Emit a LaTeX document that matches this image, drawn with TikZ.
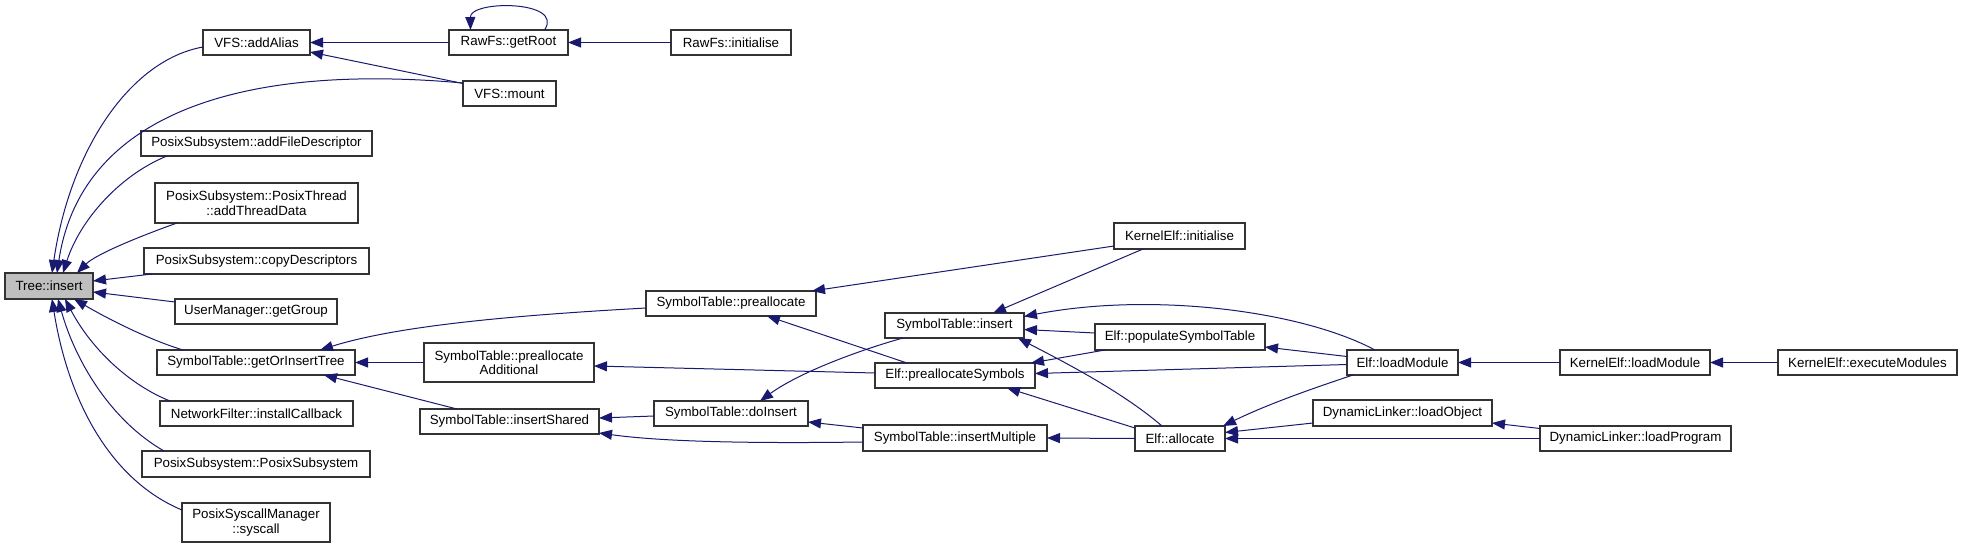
\documentclass[tikz,border=0pt]{standalone}
\usepackage{fontspec}
\setmainfont{Liberation Sans}
\usetikzlibrary{arrows.meta,calc}
\definecolor{edgec}{HTML}{191970}
\definecolor{rootfill}{HTML}{BFBFBF}
\begin{document}
\begin{tikzpicture}[x=1pt,y=-1pt,
  font=\fontsize{13.33}{14.5}\selectfont,
  fn/.style={draw=black!80, line width=1.1pt, fill=white, inner sep=0pt, outer sep=0pt, align=center},
  edge/.style={draw=edgec, line width=1pt, -{Triangle[length=13pt,width=10pt]}}]
\useasboundingbox (0,0) rectangle (1963,549);
% rank 0
\node[fn, fill=rootfill, minimum width=88pt, minimum height=26pt] (tree) at (49,286) {Tree::insert};
% rank 1
\node[fn, minimum width=107pt, minimum height=25pt] (addAlias) at (256.5,42.5) {VFS::addAlias};
\node[fn, minimum width=231pt, minimum height=25pt] (addFD) at (256.5,143.5) {PosixSubsystem::addFileDescriptor};
\node[fn, minimum width=203pt, minimum height=40pt] (addTD) at (256.5,203) {PosixSubsystem::PosixThread\\::addThreadData};
\node[fn, minimum width=225pt, minimum height=26pt] (copyD) at (256.5,261) {PosixSubsystem::copyDescriptors};
\node[fn, minimum width=162pt, minimum height=25pt] (getGroup) at (256,311.5) {UserManager::getGroup};
\node[fn, minimum width=198pt, minimum height=25pt] (getOrIns) at (256,362.5) {SymbolTable::getOrInsertTree};
\node[fn, minimum width=193pt, minimum height=25pt] (netf) at (256.5,413.5) {NetworkFilter::installCallback};
\node[fn, minimum width=228pt, minimum height=26pt] (posixSS) at (256,464) {PosixSubsystem::PosixSubsystem};
\node[fn, minimum width=148pt, minimum height=39pt] (syscall) at (256,522.5) {PosixSyscallManager\\::syscall};
% rank 2
\node[fn, minimum width=119pt, minimum height=25pt] (getRoot) at (508.5,42.5) {RawFs::getRoot};
\node[fn, minimum width=93pt, minimum height=25pt] (mount) at (509.5,93.5) {VFS::mount};
\node[fn, minimum width=170pt, minimum height=39pt] (preAdd) at (509,362.5) {SymbolTable::preallocate\\Additional};
\node[fn, minimum width=179pt, minimum height=25pt] (insShared) at (509.5,421.5) {SymbolTable::insertShared};
% rank 3
\node[fn, minimum width=120pt, minimum height=25pt] (rawinit) at (731,42.5) {RawFs::initialise};
\node[fn, minimum width=170pt, minimum height=25pt] (prealloc) at (731,303.5) {SymbolTable::preallocate};
\node[fn, minimum width=154pt, minimum height=25pt] (doInsert) at (731,413.5) {SymbolTable::doInsert};
% rank 4
\node[fn, minimum width=139pt, minimum height=25pt] (stInsert) at (954.5,325.5) {SymbolTable::insert};
\node[fn, minimum width=160pt, minimum height=25pt] (preSyms) at (955,375.5) {Elf::preallocateSymbols};
\node[fn, minimum width=184pt, minimum height=26pt] (insMult) at (955,438) {SymbolTable::insertMultiple};
% rank 5
\node[fn, minimum width=131pt, minimum height=26pt] (kinit) at (1179.5,236) {KernelElf::initialise};
\node[fn, minimum width=170pt, minimum height=26pt] (popST) at (1180,337) {Elf::populateSymbolTable};
\node[fn, minimum width=90pt, minimum height=25pt] (allocate) at (1180,438.5) {Elf::allocate};
% rank 6
\node[fn, minimum width=111pt, minimum height=25pt] (loadMod) at (1402.5,362.5) {Elf::loadModule};
\node[fn, minimum width=179pt, minimum height=26pt] (loadObj) at (1402.5,413) {DynamicLinker::loadObject};
% rank 7
\node[fn, minimum width=150pt, minimum height=25pt] (kloadMod) at (1635,362.5) {KernelElf::loadModule};
\node[fn, minimum width=191pt, minimum height=25pt] (loadProg) at (1635.5,438.5) {DynamicLinker::loadProgram};
% rank 8
\node[fn, minimum width=179pt, minimum height=25pt] (execMod) at (1867.5,362.5) {KernelElf::executeModules};

% edges into Tree::insert
\draw[edge] ($(addAlias.west)+(0,4.5)$) .. controls (130,60) and (70,150) .. ($(tree.north)+(3,0)$);
\draw[edge] ($(mount.west)+(0,-10.5)$) .. controls (230,62) and (80,120) .. ($(tree.north)+(8,0)$);
\draw[edge] ($(addFD.south west)+(26,0)$) .. controls (120,175) and (80,220) .. ($(tree.north)+(14,0)$);
\draw[edge] ($(addTD.south west)+(22,0)$) .. controls (135,238) and (95,255) .. ($(tree.north)+(28,0)$);
\draw[edge] ($(copyD.south west)+(8,0)$) -- ($(tree.east)+(0,-5)$);
\draw[edge] ($(getGroup.west)+(0,-9.5)$) -- ($(tree.east)+(0,6)$);
\draw[edge] ($(getOrIns.north west)+(26,0)$) .. controls (150,340) and (110,320) .. ($(tree.south)+(25,0)$);
\draw[edge] ($(netf.north west)+(10,0)$) .. controls (130,385) and (92,350) .. ($(tree.south)+(16,0)$);
\draw[edge] ($(posixSS.north west)+(22,0)$) .. controls (110,420) and (75,360) .. ($(tree.south)+(9,0)$);
\draw[edge] ($(syscall.west)+(0,-12.5)$) .. controls (110,480) and (68,400) .. ($(tree.south)+(3,0)$);
% top group
\draw[edge] ($(mount.west)+(0,-10)$) -- ($(addAlias.east)+(0,9.5)$);
\draw[edge] (getRoot.west) -- (addAlias.east);
\draw[edge] ($(getRoot.north)+(36,0)$) .. controls (565,0) and (470,0) .. ($(getRoot.north)+(-38,0)$);
\draw[edge] (rawinit.west) -- (getRoot.east);
% SymbolTable group
\draw[edge] ($(prealloc.west)+(0,4.5)$) .. controls (520,315) and (400,325) .. ($(getOrIns.north east)+(-35,0)$);
\draw[edge] (preAdd.west) -- (getOrIns.east);
\draw[edge] ($(insShared.north west)+(37,0)$) -- ($(getOrIns.south east)+(-31,0)$);
\draw[edge] ($(kinit.west)+(0,10)$) -- ($(prealloc.north east)+(-4,0)$);
\draw[edge] ($(preSyms.north west)+(32,0)$) -- ($(prealloc.south)+(36,0)$);
\draw[edge] ($(preSyms.west)+(0,-2.5)$) -- ($(preAdd.east)+(0,3.5)$);
\draw[edge] ($(kinit.south west)+(29,0)$) -- ($(stInsert.north east)+(-31,0)$);
\draw[edge] ($(loadMod.north west)+(28,0)$) .. controls (1300,310) and (1150,292) .. ($(stInsert.east)+(0,-9)$);
\draw[edge] ($(popST.west)+(0,-4)$) -- ($(stInsert.east)+(0,4)$);
\draw[edge] ($(allocate.north west)+(27,0)$) .. controls (1120,390) and (1060,360) .. ($(stInsert.south east)+(-6,0)$);
\draw[edge] ($(popST.south west)+(10,0)$) -- ($(preSyms.north east)+(-4,0)$);
\draw[edge] ($(loadMod.west)+(0,2)$) -- ($(preSyms.east)+(0,-2)$);
\draw[edge] ($(allocate.north west)+(0,2)$) -- ($(preSyms.south east)+(-28,0)$);
\draw[edge] ($(loadMod.west)+(0,-6)$) -- ($(popST.east)+(0,10)$);
\draw[edge] ($(stInsert.south west)+(18,0)$) .. controls (860,350) and (800,372) .. ($(doInsert.north)+(29,0)$);
\draw[edge] ($(doInsert.west)+(0,2.5)$) -- ($(insShared.east)+(0,-3.5)$);
\draw[edge] ($(insMult.west)+(0,4)$) .. controls (720,444) and (650,440) .. ($(insShared.south east)+(0,-1)$);
\draw[edge] ($(insMult.west)+(0,-10)$) -- ($(doInsert.east)+(0,8.5)$);
\draw[edge] (allocate.west) -- (insMult.east);
% Elf / linker group
\draw[edge] ($(loadMod.south west)+(6,0)$) .. controls (1320,386) and (1270,403) .. ($(allocate.north east)+(-2,0)$);
\draw[edge] ($(loadObj.west)+(0,10)$) -- ($(allocate.east)+(0,-6)$);
\draw[edge] (loadProg.west) -- (allocate.east);
\draw[edge] ($(loadProg.west)+(0,-10)$) -- ($(loadObj.east)+(0,10)$);
\draw[edge] (kloadMod.west) -- (loadMod.east);
\draw[edge] (execMod.west) -- (kloadMod.east);
\end{tikzpicture}
\end{document}
